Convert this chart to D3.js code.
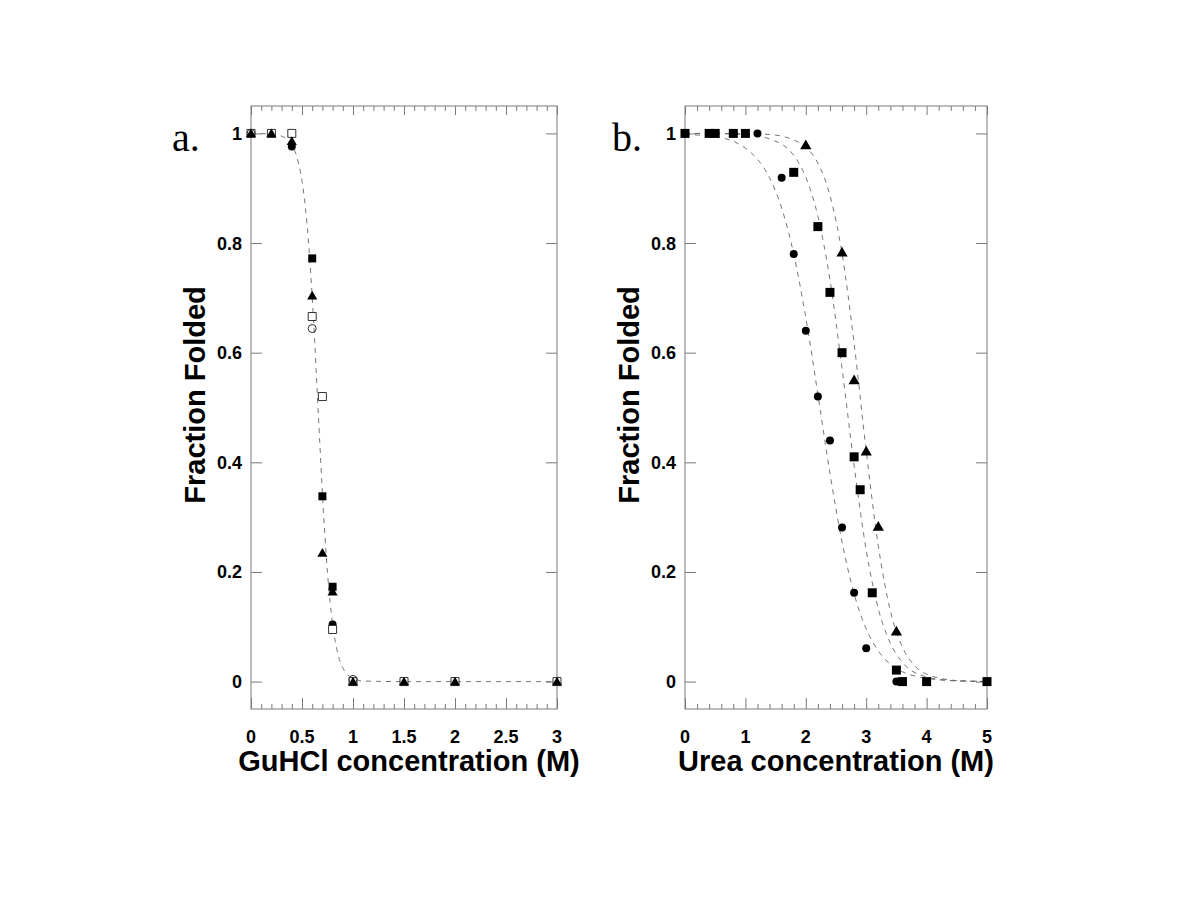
<!DOCTYPE html>
<html>
<head>
<meta charset="utf-8">
<script src="https://cdn.jsdelivr.net/npm/d3@7"></script>
<style>
  html, body { margin: 0; padding: 0; background: #fff; }
  svg { display: block; }
</style>
</head>
<body>
<svg id="chart" width="1200" height="900"></svg>
<script>
// ---------- Data ----------
// Panel a: GuHCl denaturation
const aFilledSquare   = [[0.6,0.772],[0.7,0.338],[0.8,0.173]];
const aFilledTriangle = [[0,1],[0.2,1],[0.4,0.986],[0.6,0.704],[0.7,0.235],[0.8,0.164],[1,0],[1.5,0],[2,0],[3,0]];
const aOpenSquare     = [[0,1],[0.2,1],[0.4,1],[0.6,0.666],[0.7,0.52],[0.8,0.095],[1,0],[1.5,0],[2,0],[3,0]];
const aOpenCircle     = [[0,1],[0.6,0.644],[1,0.004]];
const aFilledCircle   = [[0.4,0.976],[0.8,0.104]];
// fitted curve for panel a
const aCurve = [[0,1],[0.2,0.999],[0.3,0.995],[0.4,0.979],[0.45,0.957],[0.5,0.913],[0.55,0.833],[0.6,0.702],
  [0.625,0.618],[0.65,0.526],[0.675,0.433],[0.7,0.344],[0.75,0.199],[0.8,0.105],[0.85,0.052],[0.9,0.025],
  [0.95,0.012],[1.0,0.006],[1.1,0.001],[1.5,0],[2,0],[3,0]];

// Panel b: urea denaturation
const bCircle   = [[1.2,1.0],[1.6,0.919],[1.8,0.78],[2.0,0.64],[2.2,0.52],[2.4,0.44],[2.6,0.281],[2.8,0.162],[3.0,0.061],[3.5,0]];
const bSquare   = [[0,1],[0.4,1],[0.5,1],[0.8,1],[1.0,1],[1.8,0.929],[2.2,0.83],[2.4,0.71],[2.6,0.60],[2.8,0.41],[2.9,0.35],[3.1,0.162],[3.5,0.021],[3.6,0],[4.0,0],[5.0,0]];
const bTriangle = [[2.0,0.979],[2.6,0.783],[2.8,0.55],[3.0,0.42],[3.2,0.283],[3.5,0.092]];
// fitted curves for panel b
const bCurveCircle = [[0,0.998],[0.5,0.994],[1.0,0.973],[1.2,0.953],[1.4,0.919],[1.6,0.864],[1.8,0.78],[2.0,0.664],
  [2.2,0.524],[2.4,0.38],[2.6,0.255],[2.8,0.16],[3.0,0.096],[3.2,0.056],[3.5,0.024],[4.0,0.006],[4.5,0.0013],[5.0,0.0003]];
const bCurveSquare = [[0,1],[0.5,0.9995],[1.0,0.998],[1.4,0.99],[1.8,0.96],[2.0,0.92],[2.2,0.849],[2.4,0.733],[2.6,0.571],
  [2.8,0.394],[3.0,0.24],[3.2,0.133],[3.4,0.07],[3.6,0.035],[4.0,0.0086],[4.5,0.0014],[5.0,0.0002]];
const bCurveTriangle = [[0,1],[1.0,0.9995],[1.4,0.998],[1.8,0.988],[2.0,0.975],[2.2,0.946],[2.4,0.887],[2.6,0.781],
  [2.8,0.617],[3.0,0.421],[3.2,0.248],[3.4,0.129],[3.6,0.063],[3.8,0.029],[4.0,0.0135],[4.5,0.0019],[5.0,0.0003]];

const yTickValues = [0, 0.2, 0.4, 0.6, 0.8, 1];
const yTickLabels = ["0", "0.2", "0.4", "0.6", "0.8", "1"];
const aXTickValues = [0, 0.5, 1, 1.5, 2, 2.5, 3];
const aXTickLabels = ["0", "0.5", "1", "1.5", "2", "2.5", "3"];
const bXTickValues = [0, 1, 2, 3, 4, 5];
const bXTickLabels = ["0", "1", "2", "3", "4", "5"];

// ---------- Drawing ----------
const svg = d3.select("#chart");
const frameColor = "#7a7a7a";
const labelFont = "Arial, 'Liberation Sans', Helvetica, sans-serif";

function panel(opt) {
  const x = d3.scaleLinear().domain(opt.xDomain).range([opt.left, opt.right]);
  const y = d3.scaleLinear().domain([-0.05, 1.05]).range([709, 106]);
  const g = svg.append("g");

  // frame
  g.append("rect")
    .attr("x", opt.left).attr("y", 106)
    .attr("width", opt.right - opt.left).attr("height", 709 - 106)
    .attr("fill", "none").attr("stroke", frameColor).attr("stroke-width", 1);

  // x ticks (bottom and top, inward)
  const minor = d3.range(opt.xDomain[0], opt.xDomain[1] + 1e-9, opt.minorStep);
  const isMajor = v => opt.xTicks.some(t => Math.abs(t - v) < 1e-6);
  const bottomAxis = d3.axisBottom(x).tickValues(minor).tickSize(0).tickFormat("");
  const gb = g.append("g").attr("transform", "translate(0,709)").call(bottomAxis);
  gb.select(".domain").remove();
  gb.selectAll(".tick line")
    .attr("y2", d => isMajor(d) ? -11 : -5)
    .attr("stroke", frameColor);
  const topAxis = d3.axisTop(x).tickValues(minor).tickSize(0).tickFormat("");
  const gt = g.append("g").attr("transform", "translate(0,106)").call(topAxis);
  gt.select(".domain").remove();
  gt.selectAll(".tick line")
    .attr("y2", d => isMajor(d) ? 9 : 5)
    .attr("stroke", frameColor);

  // x tick labels
  opt.xTicks.forEach((t, i) => {
    g.append("text")
      .attr("x", x(t)).attr("y", 743)
      .attr("text-anchor", "middle")
      .attr("font-family", labelFont).attr("font-weight", "bold").attr("font-size", 18)
      .attr("fill", "#000")
      .text(opt.xLabels[i]);
  });

  // y ticks left and right, inward
  const leftAxis = d3.axisLeft(y).tickValues(yTickValues).tickSize(0).tickFormat("");
  const gl = g.append("g").attr("transform", `translate(${opt.left},0)`).call(leftAxis);
  gl.select(".domain").remove();
  gl.selectAll(".tick line").attr("x2", 11).attr("stroke", frameColor);
  const rightAxis = d3.axisRight(y).tickValues(yTickValues).tickSize(0).tickFormat("");
  const gr = g.append("g").attr("transform", `translate(${opt.right},0)`).call(rightAxis);
  gr.select(".domain").remove();
  gr.selectAll(".tick line").attr("x2", -11).attr("stroke", frameColor);

  yTickValues.forEach((t, i) => {
    g.append("text")
      .attr("x", opt.left - 9).attr("y", y(t))
      .attr("dy", "0.36em")
      .attr("text-anchor", "end")
      .attr("font-family", labelFont).attr("font-weight", "bold").attr("font-size", 18)
      .attr("fill", "#000")
      .text(yTickLabels[i]);
  });

  // axis titles
  g.append("text")
    .attr("x", opt.xTitleX).attr("y", 771)
    .attr("text-anchor", "middle")
    .attr("font-family", labelFont).attr("font-weight", "bold").attr("font-size", 29)
    .attr("fill", "#000")
    .text(opt.xTitle);
  g.append("text")
    .attr("transform", `translate(${opt.left - 46},395) rotate(-90)`)
    .attr("text-anchor", "middle")
    .attr("font-family", labelFont).attr("font-weight", "bold").attr("font-size", 29)
    .attr("fill", "#000")
    .text("Fraction Folded");

  // panel letter
  g.append("text")
    .attr("x", opt.letterX).attr("y", 151)
    .attr("font-family", "'Liberation Serif', 'Times New Roman', serif")
    .attr("font-size", 40)
    .attr("fill", "#000")
    .text(opt.letter);

  // curves
  const line = d3.line().x(d => x(d[0])).y(d => y(d[1])).curve(d3.curveMonotoneX);
  opt.curves.forEach(c => {
    g.append("path").attr("d", line(c))
      .attr("fill", "none").attr("stroke", "#666").attr("stroke-width", 0.9)
      .attr("stroke-dasharray", "5,5");
  });

  return { g, x, y };
}

function drawSeries(p, data, type, size) {
  const sym = {
    square: d3.symbolSquare, triangle: d3.symbolTriangle, circle: d3.symbolCircle
  };
  let shape, fill, stroke;
  if (type === "filledSquare") { shape = sym.square; fill = "#000"; stroke = "none"; }
  if (type === "openSquare") { shape = sym.square; fill = "#fff"; stroke = "#333"; }
  if (type === "filledTriangle") { shape = sym.triangle; fill = "#000"; stroke = "none"; }
  if (type === "filledCircle") { shape = sym.circle; fill = "#000"; stroke = "none"; }
  if (type === "openCircle") { shape = sym.circle; fill = "none"; stroke = "#333"; }
  const area = shape === sym.square ? size * size
             : shape === sym.circle ? Math.PI * (size / 2) * (size / 2)
             : size * size * 0.55;
  const gen = d3.symbol().type(shape).size(area);
  p.g.append("g").selectAll("path").data(data).join("path")
    .attr("transform", d => `translate(${p.x(d[0])},${p.y(d[1]) + (shape === sym.triangle ? 1 : 0)})`)
    .attr("d", gen)
    .attr("fill", fill).attr("stroke", stroke).attr("stroke-width", 1);
}

const pa = panel({
  left: 251, right: 557, xDomain: [0, 3], minorStep: 0.1,
  xTicks: aXTickValues, xLabels: aXTickLabels,
  xTitle: "GuHCl concentration (M)", xTitleX: 409,
  letter: "a.", letterX: 172,
  curves: [aCurve]
});
drawSeries(pa, aFilledCircle, "filledCircle", 8);
drawSeries(pa, aOpenSquare, "openSquare", 8);
drawSeries(pa, aOpenCircle, "openCircle", 8);
drawSeries(pa, aFilledTriangle, "filledTriangle", 9);
drawSeries(pa, aFilledSquare, "filledSquare", 8);

const pb = panel({
  left: 685, right: 987, xDomain: [0, 5], minorStep: 0.2,
  xTicks: bXTickValues, xLabels: bXTickLabels,
  xTitle: "Urea concentration (M)", xTitleX: 836,
  letter: "b.", letterX: 612,
  curves: [bCurveCircle, bCurveSquare, bCurveTriangle]
});
drawSeries(pb, bCircle, "filledCircle", 8);
drawSeries(pb, bTriangle, "filledTriangle", 10);
drawSeries(pb, bSquare, "filledSquare", 9);
</script>
</body>
</html>
